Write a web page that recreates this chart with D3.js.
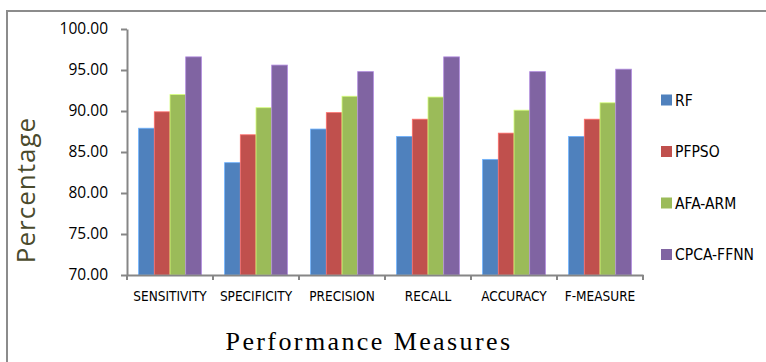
<!DOCTYPE html>
<html><head><meta charset="utf-8">
<script src="https://cdn.jsdelivr.net/npm/d3@7"></script>
<style>
html,body{margin:0;padding:0;background:#fff;}
svg{display:block;}
</style></head>
<body>
<script>
const categories = ["SENSITIVITY","SPECIFICITY","PRECISION","RECALL","ACCURACY","F-MEASURE"];
const seriesNames = ["RF","PFPSO","AFA-ARM","CPCA-FFNN"];
const RF        = [87.9, 83.7, 87.8, 86.9, 84.1, 86.9];
const PFPSO     = [89.9, 87.1, 89.8, 89.0, 87.3, 89.0];
const AFA_ARM   = [92.0, 90.4, 91.8, 91.7, 90.1, 91.0];
const CPCA_FFNN = [96.6, 95.6, 94.8, 96.6, 94.8, 95.1];
const yTicks = [70,75,80,85,90,95,100];
const colors = ["#4F81BD","#C0504D","#9BBB59","#8064A2"];
const series = [RF, PFPSO, AFA_ARM, CPCA_FFNN];

(function(){
const W = 766, H = 362;
const svg = d3.select("body").append("svg").attr("width", W).attr("height", H);

// outer border
svg.append("rect").attr("x",7).attr("y",11).attr("width",W+10).attr("height",H+10)
  .attr("fill","none").attr("stroke","#8c8c8c").attr("stroke-width",2);

const pLeft = 127, pRight = 643, pTop = 29, pBottom = 275;
const x0 = d3.scaleBand().domain(categories).range([pLeft,pRight]).paddingInner(0).paddingOuter(0);
const x1 = d3.scaleBand().domain(seriesNames).range([0,x0.bandwidth()]).paddingOuter(0.74).paddingInner(0);
const y = d3.scaleLinear().domain([70,100]).range([pBottom,pTop]);

const narrow = "'Liberation Sans Narrow','DejaVu Sans Condensed','Liberation Sans',sans-serif";

// bars
const g = svg.append("g");
categories.forEach((c,i)=>{
  series.forEach((s,j)=>{
    g.append("rect")
      .attr("x", x0(c)+x1(seriesNames[j]))
      .attr("y", y(s[i]))
      .attr("width", x1.bandwidth())
      .attr("height", y(70)-y(s[i]))
      .attr("fill", colors[j])
      .attr("stroke", d3.color(colors[j]).brighter(0.9))
      .attr("stroke-width",0.8);
  });
});

// y axis
const yAxis = d3.axisLeft(y).tickValues(yTicks).tickFormat(d3.format(".2f")).tickSize(6).tickSizeOuter(0);
const ya = svg.append("g").attr("transform",`translate(${pLeft},0)`).call(yAxis);
ya.select(".domain").attr("stroke","#868686").attr("stroke-width",2);
ya.selectAll(".tick line").attr("stroke","#868686").attr("stroke-width",2);
ya.selectAll(".tick text").attr("font-family","'Open Sans','Liberation Sans',sans-serif")
  .attr("font-size",15.5).attr("fill","#000").attr("x",-19);

// x axis
const xAxis = d3.axisBottom(x0).tickSize(0).tickSizeOuter(0);
const xa = svg.append("g").attr("transform",`translate(0,${pBottom})`).call(xAxis);
xa.select(".domain").attr("stroke","#868686").attr("stroke-width",2);
xa.selectAll(".tick text").attr("font-family",narrow).attr("font-size",13.5).attr("fill","#000").attr("dy","0").attr("y",26);
// boundary ticks
const bounds = categories.map(c=>x0(c)).concat([pRight]);
xa.selectAll(".btick").data(bounds).enter().append("line").attr("class","btick")
  .attr("x1",d=>d).attr("x2",d=>d).attr("y1",0).attr("y2",5)
  .attr("stroke","#868686").attr("stroke-width",2);

// legend
const lg = svg.append("g");
seriesNames.forEach((n,i)=>{
  const cy = 100 + i*51.5;
  lg.append("rect").attr("x",661).attr("y",cy-5.5).attr("width",11).attr("height",11).attr("fill",colors[i]);
  lg.append("text").attr("x",675).attr("y",cy).attr("dy","0.36em")
    .attr("font-family",narrow).attr("font-size",15.5).attr("fill","#000").text(n);
});

// y title
svg.append("text").attr("transform","translate(35,190) rotate(-90)")
  .attr("text-anchor","middle").attr("font-family","'Open Sans','Liberation Sans',sans-serif")
  .attr("font-size",26).attr("letter-spacing",1).attr("fill","#4a4a2c").text("Percentage");

// x title
svg.append("text").attr("x",369).attr("y",350).attr("text-anchor","middle")
  .attr("font-family","'Liberation Serif','Times New Roman',serif")
  .attr("font-size",26).attr("letter-spacing",2.4).attr("fill","#000").text("Performance Measures");
})();
</script>
</body></html>
